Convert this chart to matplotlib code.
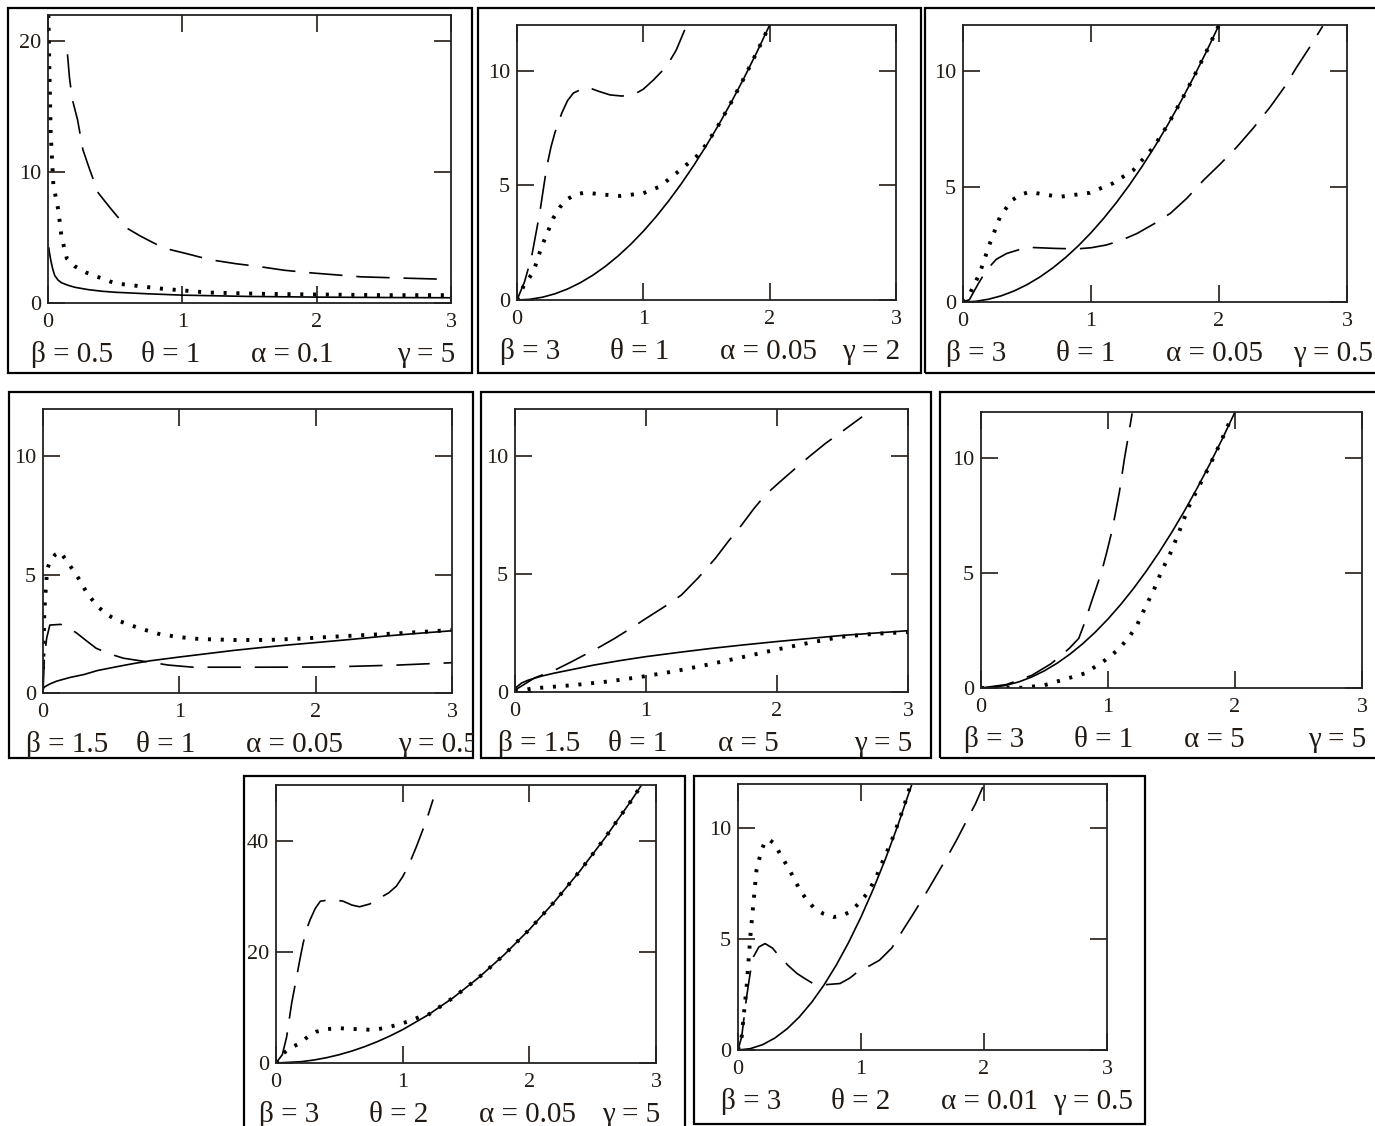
import matplotlib
matplotlib.use("Agg")
import matplotlib.pyplot as plt
import matplotlib.patches as patches
from matplotlib.transforms import Bbox, TransformedBbox

# hazard rate curves, eight parameter sets
W, H = 1375, 1126

betas = ["0.5", "3", "3", "1.5", "1.5", "3", "3", "3"]
thetas = ["1", "1", "1", "1", "1", "1", "2", "2"]
alphas = ["0.1", "0.05", "0.05", "0.05", "5", "5", "0.05", "0.01"]
gammas = ["5", "2", "0.5", "0.5", "5", "5", "5", "0.5"]

x_ticks = [0, 1, 2, 3]
y_ticks = [[0, 10, 20], [0, 5, 10], [0, 5, 10], [0, 5, 10],
           [0, 5, 10], [0, 5, 10], [0, 20, 40], [0, 5, 10]]
y_tops = [22, 12, 12, 12, 12, 12, 50, 12]

# panel 1
p1_solid = [(0.006, 4.2), (0.01, 3.9), (0.02, 3.3), (0.035, 2.6), (0.05, 2.1), (0.075, 1.75),
            (0.1, 1.55), (0.15, 1.35), (0.2, 1.2), (0.3, 1.02), (0.4, 0.9), (0.5, 0.82),
            (0.75, 0.7), (1.0, 0.6), (1.5, 0.5), (2.0, 0.45), (2.5, 0.42), (3.0, 0.4)]
p1_dot = [(0.003, 22), (0.01, 18), (0.02, 13), (0.04, 9), (0.077, 7.1), (0.1, 5.1),
          (0.14, 3.4), (0.2, 2.8), (0.29, 2.3), (0.5, 1.5), (0.84, 1.1), (1.19, 0.8),
          (1.6, 0.7), (2.0, 0.65), (2.5, 0.6), (3.0, 0.6)]
p1_dash = [(0.145, 19.0), (0.16, 17.2), (0.18, 15.6), (0.22, 14.0), (0.26, 11.7), (0.31, 10.2),
           (0.375, 8.4), (0.46, 7.3), (0.59, 5.7), (0.69, 5.1), (0.86, 4.2), (1.02, 3.8),
           (1.21, 3.3), (1.4, 3.0), (1.56, 2.8), (1.76, 2.5), (1.96, 2.3), (2.33, 2.0),
           (2.65, 1.9), (3.0, 1.8)]

# panel 2
p2_solid = [(0.0, 0.0), (0.1, 0.03), (0.2, 0.12), (0.3, 0.27), (0.4, 0.48), (0.5, 0.75),
            (0.6, 1.08), (0.7, 1.47), (0.8, 1.92), (0.9, 2.43), (1.0, 3.0), (1.1, 3.63),
            (1.2, 4.32), (1.3, 5.07), (1.4, 5.88), (1.5, 6.75), (1.6, 7.68), (1.7, 8.67),
            (1.8, 9.72), (1.9, 10.83), (2.0, 12.0)]
p2_dot = [(0.0, 0.0), (0.05, 0.58), (0.13, 1.24), (0.195, 2.33), (0.25, 3.06), (0.29, 3.6),
          (0.34, 4.05), (0.39, 4.37), (0.46, 4.6), (0.54, 4.69), (0.68, 4.6), (0.82, 4.54),
          (1.0, 4.66), (1.13, 4.95), (1.26, 5.53), (1.42, 6.26), (1.5, 6.8), (1.6, 7.68),
          (1.7, 8.67), (1.8, 9.72), (1.9, 10.83), (2.0, 12.0)]
p2_dash = [(0.0, 0.0), (0.06, 0.8), (0.116, 1.9), (0.18, 3.8), (0.235, 5.8), (0.27, 6.7),
           (0.3, 7.3), (0.354, 8.15), (0.4, 8.7), (0.446, 9.03), (0.55, 9.3), (0.65, 9.1),
           (0.736, 8.95), (0.83, 8.9), (0.92, 8.95), (1.0, 9.2), (1.08, 9.6), (1.185, 10.2),
           (1.26, 10.9), (1.34, 11.95)]

# panel 3
p3_solid = [(0.0, 0.0), (0.1, 0.03), (0.2, 0.12), (0.3, 0.27), (0.4, 0.48), (0.5, 0.75),
            (0.6, 1.08), (0.7, 1.47), (0.8, 1.92), (0.9, 2.43), (1.0, 3.0), (1.1, 3.63),
            (1.2, 4.32), (1.3, 5.07), (1.4, 5.88), (1.5, 6.75), (1.6, 7.68), (1.7, 8.67),
            (1.8, 9.72), (1.9, 10.83), (2.0, 12.0)]
p3_dot = [(0.0, 0.0), (0.055, 0.38), (0.13, 1.24), (0.21, 2.54), (0.29, 3.7), (0.38, 4.4),
          (0.45, 4.65), (0.52, 4.77), (0.64, 4.65), (0.76, 4.56), (0.99, 4.73), (1.17, 5.14),
          (1.33, 5.71), (1.49, 6.72), (1.6, 7.68), (1.7, 8.67), (1.8, 9.72), (1.9, 10.83),
          (2.0, 12.0)]
p3_dash = [(0.0, 0.0), (0.05, 0.1), (0.12, 0.8), (0.185, 1.39), (0.26, 1.85), (0.34, 2.1),
           (0.5, 2.37), (0.73, 2.32), (0.89, 2.3), (1.0, 2.35), (1.12, 2.47), (1.24, 2.68),
           (1.36, 2.97), (1.49, 3.38), (1.62, 3.84), (1.75, 4.5), (1.88, 5.28), (2.01, 5.98),
           (2.14, 6.72), (2.27, 7.55), (2.4, 8.45), (2.51, 9.3), (2.61, 10.2), (2.71, 11.05),
           (2.81, 11.95)]

# panel 4
p4_solid = [(0.0, 0.0), (0.003, 0.2), (0.015, 0.27), (0.05, 0.38), (0.1, 0.5), (0.2, 0.66),
            (0.3, 0.78), (0.4, 0.95), (0.54, 1.11), (0.66, 1.24), (0.785, 1.36), (1.0, 1.52),
            (1.2, 1.66), (1.4, 1.8), (1.6, 1.92), (1.8, 2.03), (2.0, 2.13), (2.25, 2.26),
            (2.5, 2.4), (2.75, 2.52), (3.0, 2.63)]
p4_dot = [(0.0, 1.0), (0.003, 1.5), (0.01, 3.5), (0.03, 5.2), (0.05, 5.55), (0.09, 5.85),
          (0.125, 5.97), (0.19, 5.45), (0.26, 4.85), (0.32, 4.25), (0.39, 3.72), (0.46, 3.35),
          (0.54, 3.08), (0.71, 2.73), (0.86, 2.48), (1.0, 2.36), (1.15, 2.28), (1.4, 2.24),
          (1.64, 2.24), (1.9, 2.3), (2.13, 2.38), (2.6, 2.52), (3.0, 2.66)]
p4_dash = [(0.0, 0.0), (0.01, 1.5), (0.027, 2.32), (0.05, 2.87), (0.13, 2.9), (0.19, 2.75),
           (0.25, 2.52), (0.32, 2.2), (0.39, 1.89), (0.49, 1.65), (0.59, 1.47), (0.76, 1.32),
           (0.92, 1.18), (1.1, 1.09), (1.6, 1.09), (2.1, 1.1), (2.6, 1.18), (3.0, 1.28)]

# panel 5
p5_solid = [(0.0, 0.0), (0.01, 0.2), (0.05, 0.38), (0.1, 0.5), (0.2, 0.67), (0.3, 0.8),
            (0.46, 0.98), (0.6, 1.14), (0.8, 1.33), (1.0, 1.5), (1.25, 1.68), (1.5, 1.85),
            (1.75, 2.0), (2.0, 2.14), (2.25, 2.27), (2.5, 2.4), (2.75, 2.5), (3.0, 2.6)]
p5_dot = [(0.0, 0.0), (0.13, 0.15), (0.46, 0.3), (0.72, 0.45), (0.97, 0.65), (1.22, 0.88),
          (1.48, 1.17), (1.73, 1.47), (1.98, 1.78), (2.24, 2.08), (2.49, 2.34), (2.75, 2.47),
          (3.0, 2.54)]
p5_dash = [(0.0, 0.0), (0.02, 0.15), (0.15, 0.6), (0.305, 0.93), (0.42, 1.25), (0.53, 1.57),
           (0.65, 1.92), (0.76, 2.27), (0.89, 2.72), (1.02, 3.19), (1.15, 3.65), (1.27, 4.11),
           (1.4, 4.85), (1.53, 5.67), (1.63, 6.4), (1.73, 7.08), (1.82, 7.75), (1.91, 8.35),
           (2.02, 8.9), (2.14, 9.48), (2.25, 10.0), (2.37, 10.54), (2.51, 11.1), (2.65, 11.67)]

# panel 6
p6_solid = [(0.0, 0.0), (0.1, 0.03), (0.2, 0.12), (0.3, 0.27), (0.4, 0.48), (0.5, 0.75),
            (0.6, 1.08), (0.7, 1.47), (0.8, 1.92), (0.9, 2.43), (1.0, 3.0), (1.1, 3.63),
            (1.2, 4.32), (1.3, 5.07), (1.4, 5.88), (1.5, 6.75), (1.6, 7.68), (1.7, 8.67),
            (1.8, 9.72), (1.9, 10.83), (2.0, 12.0)]
p6_dot = [(0.0, 0.0), (0.32, 0.01), (0.5, 0.12), (0.64, 0.35), (0.82, 0.64), (0.98, 1.22),
          (1.07, 1.62), (1.16, 2.16), (1.23, 2.75), (1.29, 3.47), (1.36, 4.25), (1.42, 5.06),
          (1.49, 5.85), (1.55, 6.65), (1.63, 7.81), (1.71, 8.7), (1.79, 9.55), (1.88, 10.6),
          (1.97, 11.73)]
p6_dash = [(0.0, 0.0), (0.2, 0.15), (0.4, 0.55), (0.55, 1.05), (0.635, 1.43), (0.7, 1.75),
           (0.77, 2.16), (0.82, 2.9), (0.87, 3.75), (0.91, 4.4), (0.95, 5.06), (0.99, 5.9),
           (1.03, 6.8), (1.06, 7.65), (1.09, 8.53), (1.13, 9.99), (1.16, 10.95), (1.19, 11.94)]

# panel 7
p7_solid = [(0.0, 0.0), (0.2, 0.24), (0.3, 0.54), (0.4, 0.96), (0.5, 1.5), (0.6, 2.16),
            (0.7, 2.94), (0.8, 3.84), (0.9, 4.86), (1.0, 6.0), (1.2, 8.64), (1.4, 11.76),
            (1.6, 15.36), (1.8, 19.44), (2.0, 24.0), (2.2, 29.04), (2.4, 34.56), (2.6, 40.56),
            (2.8, 47.04), (2.88, 49.8)]
p7_dot = [(0.0, 0.0), (0.058, 1.75), (0.12, 2.8), (0.19, 3.55), (0.25, 4.7), (0.32, 5.64),
          (0.4, 6.1), (0.5, 6.25), (0.63, 6.1), (0.77, 5.95), (0.88, 6.4), (0.98, 7.0),
          (1.06, 7.6), (1.14, 8.34), (1.2, 8.64), (1.4, 11.76), (1.6, 15.36), (1.8, 19.44),
          (2.0, 24.0), (2.2, 29.04), (2.4, 34.56), (2.6, 40.56), (2.8, 47.04), (2.88, 49.8)]
p7_dash = [(0.0, 0.0), (0.05, 1.5), (0.084, 4.7), (0.124, 10.8), (0.163, 15.5), (0.19, 18.8),
           (0.215, 21.6), (0.24, 24.0), (0.27, 25.8), (0.31, 27.8), (0.35, 29.1), (0.44, 29.4),
           (0.53, 29.1), (0.6, 28.4), (0.66, 28.1), (0.74, 28.6), (0.82, 29.7), (0.89, 30.6),
           (0.95, 31.8), (1.0, 33.5), (1.03, 34.8), (1.07, 36.8), (1.11, 39.0), (1.15, 41.4),
           (1.19, 43.8), (1.24, 47.4)]

# panel 8
p8_solid = [(0.0, 0.0), (0.1, 0.06), (0.2, 0.24), (0.3, 0.54), (0.4, 0.96), (0.5, 1.5),
            (0.6, 2.16), (0.7, 2.94), (0.8, 3.84), (0.9, 4.86), (1.0, 6.0), (1.1, 7.26),
            (1.2, 8.64), (1.3, 10.14), (1.41, 11.93)]
p8_dot = [(0.0, 0.0), (0.03, 0.6), (0.043, 1.35), (0.07, 2.85), (0.1, 5.1), (0.125, 6.6),
          (0.15, 8.1), (0.19, 9.0), (0.22, 9.4), (0.25, 9.5), (0.3, 9.3), (0.34, 8.86),
          (0.4, 8.3), (0.45, 7.8), (0.5, 7.25), (0.56, 6.76), (0.62, 6.4), (0.69, 6.16),
          (0.775, 6.0), (0.84, 6.05), (0.91, 6.23), (0.98, 6.6), (1.05, 7.06), (1.12, 7.75),
          (1.18, 8.56), (1.24, 9.3), (1.29, 10.06), (1.35, 11.0), (1.4, 11.9)]
p8_dash = [(0.0, 0.0), (0.03, 0.6), (0.07, 2.4), (0.1, 3.5), (0.125, 4.2), (0.17, 4.65),
           (0.22, 4.8), (0.28, 4.6), (0.34, 4.2), (0.41, 3.8), (0.48, 3.45), (0.55, 3.2),
           (0.61, 3.0), (0.72, 2.95), (0.83, 3.0), (0.91, 3.25), (0.99, 3.6), (1.07, 3.8),
           (1.15, 4.05), (1.25, 4.6), (1.34, 5.4), (1.42, 6.1), (1.51, 6.9), (1.6, 7.75),
           (1.7, 8.7), (1.78, 9.5), (1.86, 10.36), (1.93, 11.1), (1.99, 11.86)]

curves = [
    (p1_solid, p1_dot, p1_dash), (p2_solid, p2_dot, p2_dash), (p3_solid, p3_dot, p3_dash),
    (p4_solid, p4_dot, p4_dash), (p5_solid, p5_dot, p5_dash), (p6_solid, p6_dot, p6_dash),
    (p7_solid, p7_dot, p7_dash), (p8_solid, p8_dot, p8_dash),
]

# layout in pixels: plot area (left, top, right, bottom) and outer frame
plot_px = [(48, 15, 451, 303), (517, 25, 896, 300), (963, 25, 1347, 302),
           (43, 409, 452, 693), (515, 409, 908, 692), (981, 412, 1362, 688),
           (276, 785, 656, 1063), (738, 784, 1107, 1050)]
frame_px = [(8, 8, 472, 373), (478, 8, 921, 373), (925, 8, 1380, 373),
            (9, 392, 473, 758), (481, 392, 931, 758), (940, 392, 1380, 758),
            (244, 776, 685, 1132), (694, 776, 1145, 1124)]

plt.rcParams['font.family'] = ['Liberation Serif', 'DejaVu Serif']
plt.rcParams['lines.scale_dashes'] = False
ink = '#231a14'

fig = plt.figure(figsize=(W / 100, H / 100), dpi=100)


def fx(x):
    return x / W


def fy(y):
    return 1 - y / H


for i in range(8):
    l, t, r, b = plot_px[i]
    ax = fig.add_axes([fx(l), fy(b), (r - l) / W, (b - t) / H])
    solid, dot, dash = curves[i]
    ax.plot(*zip(*solid), color='black', lw=1.2)
    ax.plot(*zip(*dot), color='black', lw=2.8, linestyle=(0, (2.2, 7)), dash_capstyle='butt')
    ax.plot(*zip(*dash), color='black', lw=1.2, linestyle=(0, (24, 10)))
    ax.set_xlim(0, 3)
    ax.set_ylim(0, y_tops[i])
    ax.set_xticks(x_ticks)
    ax.set_yticks(y_ticks[i])
    ax.tick_params(direction='in', length=12, width=1.2, top=True, right=True,
                   labelsize=16, colors=ink, pad=5)
    ax.tick_params(axis='x', pad=7)
    for s in ax.spines.values():
        s.set_linewidth(1.3)
        s.set_color('#222222')

    # outer frame of the panel
    fl, ft, fr, fb = frame_px[i]
    fig.patches.append(patches.Rectangle((fx(fl), fy(fb)), (fr - fl) / W, (fb - ft) / H,
                                         transform=fig.transFigure, fill=False,
                                         edgecolor='black', lw=1.6))
    clip = TransformedBbox(Bbox([[fx(fl), fy(fb)], [fx(fr), fy(ft)]]), fig.transFigure)

    # parameter line under the plot
    base = b + 59
    parts = [(l - 17, "β = " + betas[i]), (l + 93, "θ = " + thetas[i]),
             (l + 203, "α = " + alphas[i]), (r - 54, "γ = " + gammas[i])]
    for xp, s in parts:
        txt = fig.text(fx(xp), fy(base), s, fontsize=21, color=ink,
                       ha='left', va='baseline')
        txt.set_clip_box(clip)
        txt.set_clip_on(True)

fig.savefig('out.png', dpi=100, facecolor='white')
